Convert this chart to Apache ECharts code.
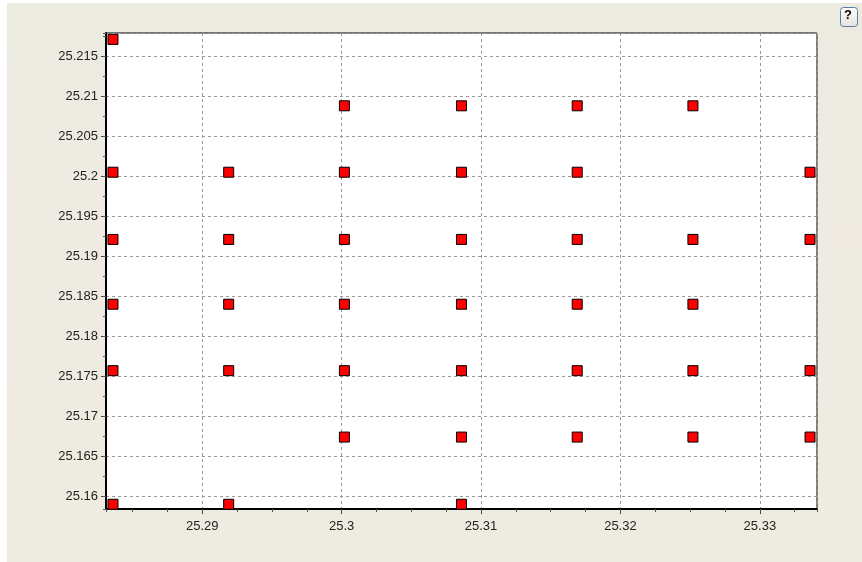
<!DOCTYPE html>
<html>
<head>
<meta charset="utf-8">
<script src="https://cdn.jsdelivr.net/npm/echarts@6/dist/echarts.min.js"></script>
<style>
  html, body { margin: 0; padding: 0; background: #fff; }
  #wrap { position: relative; width: 862px; height: 562px; overflow: hidden; }
  #panel {
    position: absolute; left: 7px; top: 3px; right: 0; bottom: 0;
    background: linear-gradient(to bottom, #ecebe0 0%, #efebe3 40%, #eeebe0 100%);
  }
  #grid { position: absolute; left: 0; top: 0; width: 862px; height: 562px; }
</style>
</head>
<body>
<div id="wrap">
  <div id="panel"></div>
  <div id="grid"></div>
</div>
<script>
const myChart = echarts.init(document.getElementById('grid'));

// rows of points (y) and the x values present in each row
const rowY = [25.2171, 25.2088, 25.2005, 25.1921, 25.1840, 25.1757, 25.1674, 25.1590];
const rowX = [
  [25.2836],
  [25.3002, 25.3086, 25.3169, 25.3252],
  [25.2836, 25.2919, 25.3002, 25.3086, 25.3169, 25.3336],
  [25.2836, 25.2919, 25.3002, 25.3086, 25.3169, 25.3252, 25.3336],
  [25.2836, 25.2919, 25.3002, 25.3086, 25.3169, 25.3252],
  [25.2836, 25.2919, 25.3002, 25.3086, 25.3169, 25.3252, 25.3336],
  [25.3002, 25.3086, 25.3169, 25.3252, 25.3336],
  [25.2836, 25.2919, 25.3086]
];

const xRange = [25.2831, 25.3341];
const yRange = [25.15841, 25.2179];
const xStep = 0.01;
const yStep = 0.005;
const minorStep = 0.0025;

const points = [];
rowY.forEach((y, i) => {
  rowX[i].forEach((x) => {
    points.push([x, y]);
  });
});

const fmt = (v) => String(parseFloat(v.toFixed(4)));
const labelStyle = {
  color: '#222',
  fontFamily: 'Liberation Sans',
  fontSize: 13,
};

const option = {
  animation: false,
  backgroundColor: 'transparent',
  grid: {
    left: 106,
    top: 33,
    right: 45,
    bottom: 53,
    show: true,
    backgroundColor: '#fff',
    borderColor: '#000',
    borderWidth: 1,
  },
  xAxis: [
    {
      type: 'value',
      min: xRange[0],
      max: xRange[1],
      minInterval: xStep,
      maxInterval: xStep,
      axisLine: { show: true, onZero: false, lineStyle: { color: '#000', width: 2 } },
      axisTick: { show: true, length: 5, lineStyle: { color: '#444' } },
      axisLabel: Object.assign({ margin: 11, formatter: fmt, showMinLabel: false, showMaxLabel: false }, labelStyle),
      splitLine: { show: true, lineStyle: { color: '#999', type: [3, 3] } },
    },
    {
      type: 'value',
      position: 'bottom',
      min: xRange[0],
      max: xRange[1],
      minInterval: minorStep,
      maxInterval: minorStep,
      axisLine: { show: false },
      axisTick: { show: true, length: 3, lineStyle: { color: '#555' } },
      axisLabel: { show: false },
      splitLine: { show: false },
    },
  ],
  yAxis: [
    {
      type: 'value',
      min: yRange[0],
      max: yRange[1],
      minInterval: yStep,
      maxInterval: yStep,
      axisLine: { show: true, onZero: false, lineStyle: { color: '#000', width: 2 } },
      axisTick: { show: true, length: 5, lineStyle: { color: '#444' } },
      axisLabel: Object.assign({ margin: 8, formatter: fmt, showMinLabel: false, showMaxLabel: false }, labelStyle),
      splitLine: { show: true, lineStyle: { color: '#999', type: [3, 3] } },
    },
    {
      type: 'value',
      position: 'left',
      min: yRange[0],
      max: yRange[1],
      minInterval: minorStep,
      maxInterval: minorStep,
      axisLine: { show: false },
      axisTick: { show: true, length: 3, lineStyle: { color: '#555' } },
      axisLabel: { show: false },
      splitLine: { show: false },
    },
  ],
  graphic: [
    {
      type: 'rect',
      left: 840,
      top: 7,
      shape: { width: 17, height: 19, r: 3 },
      style: {
        fill: new echarts.graphic.LinearGradient(0, 0, 0, 1, [
          { offset: 0, color: '#ffffff' },
          { offset: 1, color: '#e4e2d8' },
        ]),
        stroke: '#5a7aa8',
        lineWidth: 1,
      },
    },
    {
      type: 'text',
      left: 844,
      top: 9,
      style: {
        text: '?',
        fill: '#000',
        font: 'bold 13px Liberation Sans',
      },
    },
  ],
  series: [
    {
      type: 'scatter',
      xAxisIndex: 0,
      yAxisIndex: 0,
      symbol: 'rect',
      symbolSize: 10,
      clip: false,
      data: points,
      itemStyle: {
        color: '#ff0000',
        borderColor: '#000',
        borderWidth: 1,
        opacity: 1,
      },
    },
  ],
};

myChart.setOption(option);
</script>
</body>
</html>
